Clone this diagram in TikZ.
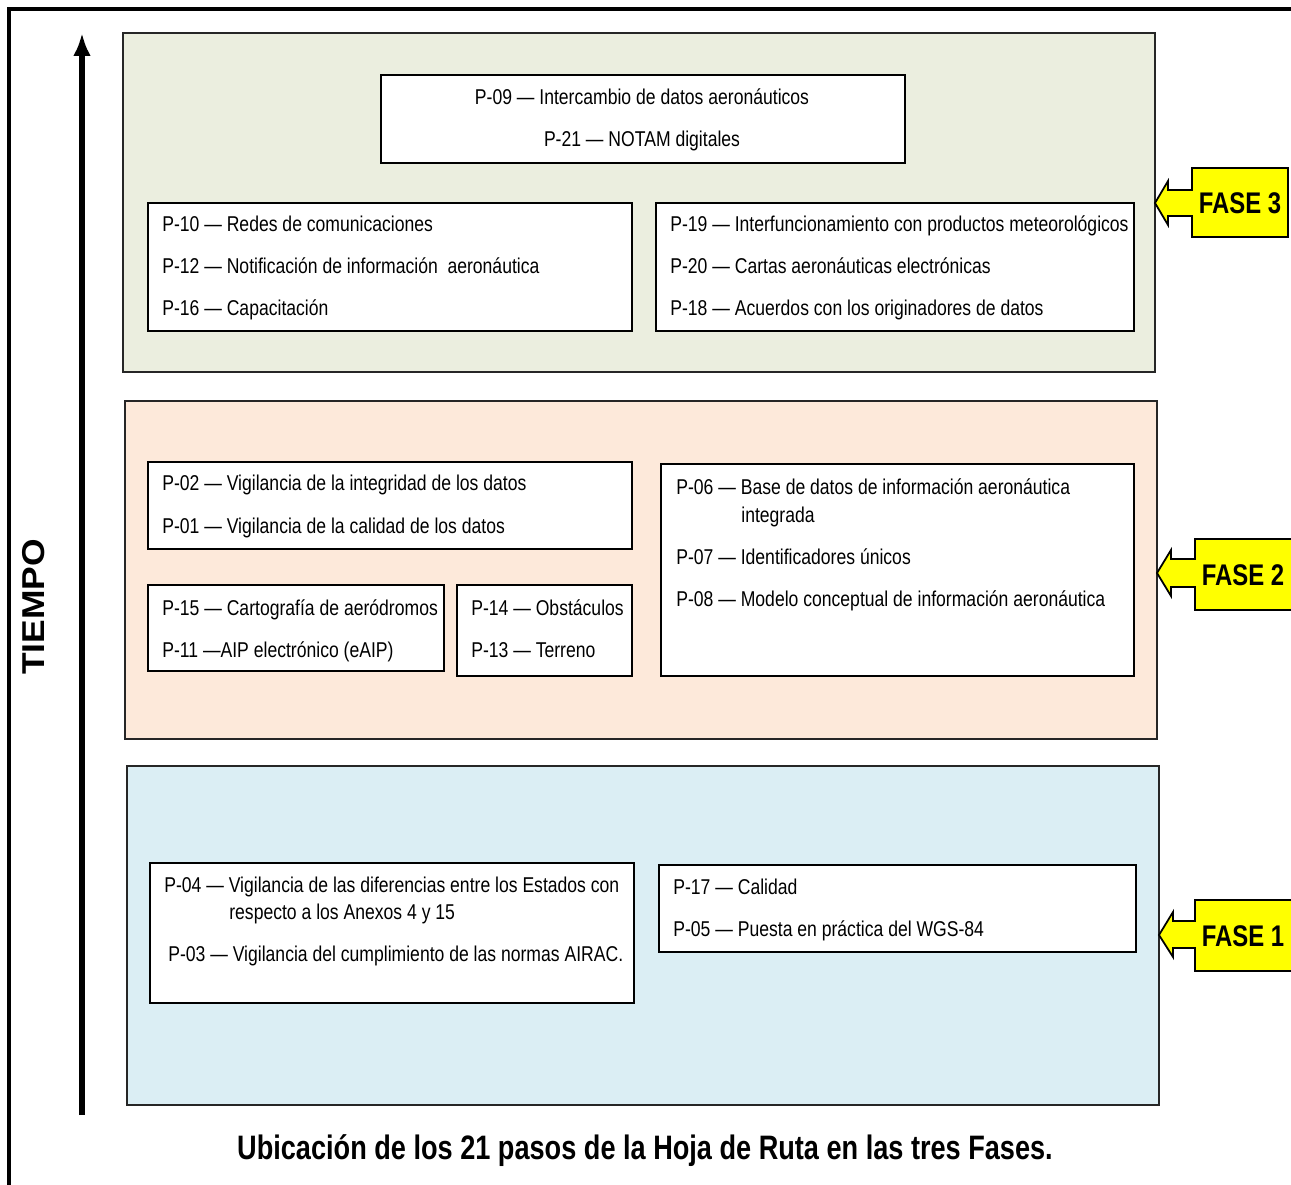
\documentclass[tikz,border=0pt]{standalone}
\usepackage{fontspec}
\setmainfont{Liberation Sans}
\newfontfamily\narrowfont{Liberation Sans}[FakeStretch=0.82]
\newfontfamily\titlefont{Liberation Sans}[FakeStretch=0.8]
\newfontfamily\widefont{Liberation Sans}[FakeStretch=1.12]
\usetikzlibrary{fit,arrows.meta}
\definecolor{phasethree}{HTML}{EBEEDF}
\definecolor{phasetwo}{HTML}{FDE9DA}
\definecolor{phaseone}{HTML}{DBEEF4}
\definecolor{calloutfill}{HTML}{FFFF00}
\tikzset{
  phasebox/.style={draw=black!85, line width=1.1pt, inner sep=0pt},
  itembox/.style={draw=black, line width=1.2pt, fill=white, inner sep=0pt},
  txt/.style={anchor=base west, inner sep=0pt, font=\narrowfont\fontsize{12.2}{14}\selectfont},
  ctxt/.style={txt, anchor=base},
  callout/.style={draw=black, line width=1pt, fill=calloutfill, line join=miter},
  fasetxt/.style={inner sep=0pt, font=\titlefont\bfseries\fontsize{17}{20}\selectfont},
}
\begin{document}
\begin{tikzpicture}[x=0.02cm, y=-0.02cm]
  \useasboundingbox (0,0) rectangle (1291,1185);
  \clip (0,0) rectangle (1291,1185);
  \fill[white] (0,0) rectangle (1291,1185);

  % outer frame (top and left edges)
  \draw[line width=1.9pt] (1300,9) -- (9,9) -- (9,1200);

  % time axis
  \coordinate (tbot) at (82,1115);
  \coordinate (ttop) at (82,33);
  \draw[line width=3.4pt, -{Latex[length=13pt, width=10pt]}] (tbot) -- (ttop);
  \node[rotate=90, font=\widefont\bfseries\fontsize{18}{20}\selectfont] (tiempo) at (34,607) {TIEMPO};

  % phase panels
  \node[phasebox, fill=phasethree, fit={(123,33) (1155,372)}] (f3) {};
  \node[phasebox, fill=phasetwo,   fit={(125,401) (1157,739)}] (f2) {};
  \node[phasebox, fill=phaseone,   fit={(127,766) (1159,1105)}] (f1) {};

  % ---- phase 3 ----
  \node[itembox, fit={(381,75) (905,163)}] (b09) {};
  \node[ctxt] (t09) at (642,105) {P-09 — Intercambio de datos aeronáuticos};
  \node[ctxt] (t21) at (642,147) {P-21 — NOTAM digitales};

  \node[itembox, fit={(148,203) (632,331)}] (b10) {};
  \node[txt] (t10) at (162,232) {P-10 — Redes de comunicaciones};
  \node[txt] (t12) at (162,274) {P-12 — Notificación de información~ aeronáutica};
  \node[txt] (t16) at (162,316) {P-16 — Capacitación};

  \node[itembox, fit={(656,203) (1134,331)}] (b19) {};
  \node[txt] (t19) at (670,232) {P-19 — Interfuncionamiento con productos meteorológicos};
  \node[txt] (t20) at (670,274) {P-20 — Cartas aeronáuticas electrónicas};
  \node[txt] (t18) at (670,316) {P-18 — Acuerdos con los originadores de datos};

  % ---- phase 2 ----
  \node[itembox, fit={(148,462) (632,549)}] (b02) {};
  \node[txt] (t02) at (162,491) {P-02 — Vigilancia de la integridad de los datos};
  \node[txt] (t01) at (162,533) {P-01 — Vigilancia de la calidad de los datos};

  \node[itembox, fit={(148,585) (444,671)}] (b15) {};
  \node[txt] (t15) at (162,615) {P-15 — Cartografía de aeródromos};
  \node[txt] (t11) at (162,657) {P-11 —AIP electrónico (eAIP)};

  \node[itembox, fit={(457,585) (632,676)}] (b14) {};
  \node[txt] (t14) at (471,615) {P-14 — Obstáculos};
  \node[txt] (t13) at (471,657) {P-13 — Terreno};

  \node[itembox, fit={(661,464) (1134,676)}] (b06) {};
  \node[txt] (t06) at (676,495) {P-06 — Base de datos de información aeronáutica};
  \node[txt] (t06b) at (741,522) {integrada};
  \node[txt] (t07) at (676,564) {P-07 — Identificadores únicos};
  \node[txt] (t08) at (676,606) {P-08 — Modelo conceptual de información aeronáutica};

  % ---- phase 1 ----
  \node[itembox, fit={(150,863) (634,1003)}] (b04) {};
  \node[txt] (t04) at (164,892) {P-04 — Vigilancia de las diferencias entre los Estados con};
  \node[txt] (t04b) at (229,919) {respecto a los Anexos 4 y 15};
  \node[txt] (t03) at (168,961) {P-03 — Vigilancia del cumplimiento de las normas AIRAC.};

  \node[itembox, fit={(659,865) (1136,952)}] (b17) {};
  \node[txt] (t17) at (673,894) {P-17 — Calidad};
  \node[txt] (t05) at (673,936) {P-05 — Puesta en práctica del WGS-84};

  % ---- phase callouts ----
  \draw[callout] (1192,168) -- (1288,168) -- (1288,237) -- (1192,237) -- (1192,216)
    -- (1168,216) -- (1168,225) -- (1155,203) -- (1168,181) -- (1168,190) -- (1192,190) -- cycle;
  \node[fasetxt] (fase3) at (1240,203) {FASE 3};

  \draw[callout] (1195,539) -- (1300,539) -- (1300,610) -- (1195,610) -- (1195,587)
    -- (1171,587) -- (1171,596) -- (1157,573) -- (1171,550) -- (1171,559) -- (1195,559) -- cycle;
  \node[fasetxt] (fase2) at (1243,575) {FASE 2};

  \draw[callout] (1195,900) -- (1300,900) -- (1300,971) -- (1195,971) -- (1195,948)
    -- (1173,948) -- (1173,957) -- (1159,935) -- (1173,912) -- (1173,921) -- (1195,921) -- cycle;
  \node[fasetxt] (fase1) at (1243,936) {FASE 1};

  % caption
  \node[anchor=base, inner sep=0pt, font=\titlefont\bfseries\fontsize{19.3}{22}\selectfont] (title) at (645,1159)
    {Ubicación de los 21 pasos de la Hoja de Ruta en las tres Fases.};
\end{tikzpicture}
\end{document}
